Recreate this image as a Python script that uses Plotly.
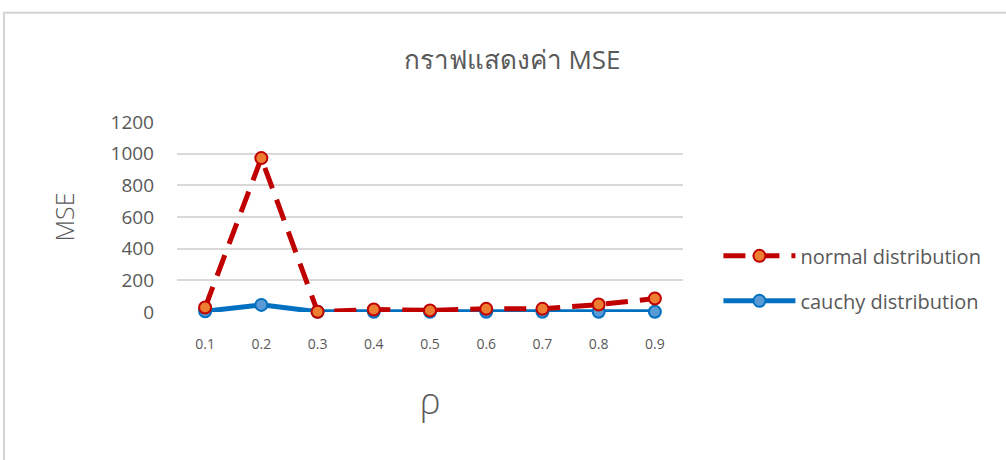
import plotly.graph_objects as go

# MSE by rho for the two error distributions
rho = ["0.1", "0.2", "0.3", "0.4", "0.5", "0.6", "0.7", "0.8", "0.9"]
mse_normal = [28, 972, 2, 16, 10, 20, 20, 47, 85]
mse_cauchy = [5, 45, 2, 2, 2, 2, 2, 2, 2]
y_ticks = [0, 200, 400, 600, 800, 1000, 1200]

GRAY = "#595959"
FONT = "Open Sans, Noto Sans, sans-serif"

fig = go.Figure()
# cauchy first so the normal series is drawn on top; legendrank keeps normal first in the legend
fig.add_trace(go.Scatter(
    x=rho, y=mse_cauchy, name="cauchy distribution", mode="lines+markers",
    legendgroup="cauchy", legendrank=2,
    line=dict(color="#0070C0", width=5),
    marker=dict(size=12, color="#5B9BD5", line=dict(color="#0070C0", width=2)),
    cliponaxis=False,
))
fig.add_trace(go.Scatter(
    x=rho, y=mse_normal, name="normal distribution", mode="lines+markers",
    legendgroup="normal", legendrank=1,
    line=dict(color="#C00000", width=5, dash="22px,12px"),
    marker=dict(size=12, color="#ED7D31", line=dict(color="#C00000", width=2)),
    cliponaxis=False,
))

fig.update_layout(
    width=1006, height=460,
    margin=dict(l=177, r=323, t=122, b=148),
    paper_bgcolor="white", plot_bgcolor="white",
    font=dict(family=FONT, color=GRAY),
    title=dict(text="กราฟแสดงค่า MSE", x=0.509, xref="container", xanchor="center",
               y=0.87, yref="container", yanchor="middle",
               font=dict(size=26, color=GRAY)),
    xaxis=dict(type="category", range=[-0.5, 8.5], showgrid=False, zeroline=False,
               showline=False, ticks="", ticklabelstandoff=22,
               tickfont=dict(size=14, color=GRAY),
               title=dict(text="ρ", font=dict(size=36, color=GRAY, weight=300),
                          standoff=36)),
    yaxis=dict(range=[0, 1200], tickvals=y_ticks, showgrid=True, gridcolor="#d9d9d9",
               gridwidth=2, zeroline=False, showline=False, ticks="",
               ticklabelstandoff=22, tickfont=dict(size=19, color=GRAY),
               title=dict(text="MSE", font=dict(size=25, color=GRAY, weight=300),
                          standoff=28)),
    legend=dict(x=1.07, y=0.177, xanchor="left", yanchor="middle",
                font=dict(size=20, color=GRAY), traceorder="grouped",
                itemwidth=72, tracegroupgap=16),
    shapes=[dict(type="rect", xref="paper", yref="paper",
                 x0=-0.342, x1=1.65, y0=-0.79, y1=1.575,
                 line=dict(color="#d4d4d4", width=2), fillcolor="rgba(0,0,0,0)",
                 layer="below")],
)

fig.write_html("out.html")
